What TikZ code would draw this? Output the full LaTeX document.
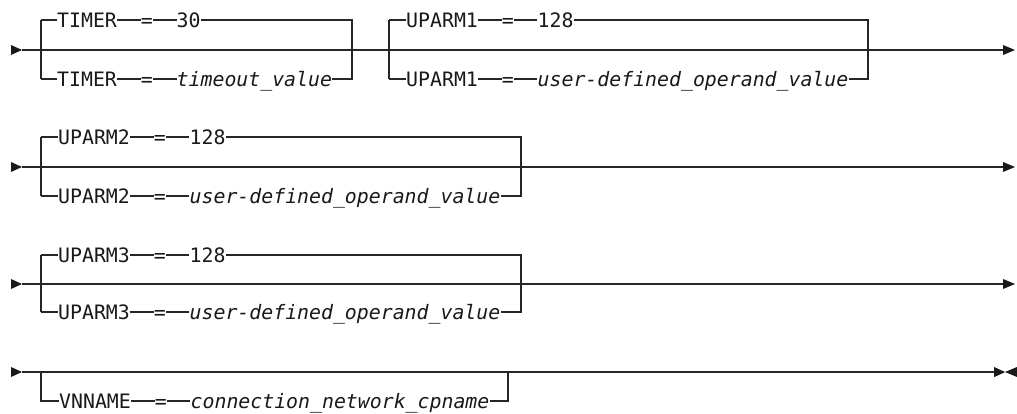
\documentclass[tikz,border=0pt]{standalone}
\usepackage{fontspec}
\setmonofont{DejaVu Sans Mono}
\begin{document}
\begin{tikzpicture}[x=1pt,y=-1pt,
  ln/.style={line width=1.1pt, draw=black!85},
  lbl/.style={inner sep=0pt, anchor=west, text height=14.5pt, text depth=0pt,
    font=\ttfamily\fontsize{19.85}{24}\selectfont, text=black!90},
  val/.style={lbl, font=\ttfamily\itshape\fontsize{19.85}{24}\selectfont},
  tri/.style={fill=black!90, draw=none}]
\useasboundingbox (0,0) rectangle (1017,414);
\def\w{11.95}

% ---------- Row 1 ----------
\coordinate (r1s) at (22,50);
\coordinate (r1e) at (1003,50);
\fill[tri] (11,45) -- (r1s) -- (11,55) -- cycle;
\fill[tri] (1003,45) -- (1015,50) -- (1003,55) -- cycle;
\draw[ln] (r1s) -- (r1e);
% TIMER group
\coordinate (aT) at (41,20); \coordinate (aB) at (41,79);
\coordinate (aRT) at (352,20); \coordinate (aRB) at (352,79);
\node[lbl] (a1k) at (57,20) {TIMER};
\node[lbl] (a1e) at ({57+7*\w},20) {=};
\node[lbl] (a1v) at ({57+10*\w},20) {30};
\node[lbl] (a2k) at (57,79) {TIMER};
\node[lbl] (a2e) at ({57+7*\w},79) {=};
\node[val] (a2v) at ({57+10*\w},79) {timeout\_value};
\draw[ln] (aT) -- (aB);
\draw[ln] (aT) -- (a1k.west) (a1k.east) -- (a1e.west) (a1e.east) -- (a1v.west);
\draw[ln] (a1v.east) -- (aRT) -- (aRB) -- (a2v.east);
\draw[ln] (aB) -- (a2k.west) (a2k.east) -- (a2e.west) (a2e.east) -- (a2v.west);
% UPARM1 group
\coordinate (bT) at (389,20); \coordinate (bB) at (389,79);
\coordinate (bRT) at (868,20); \coordinate (bRB) at (868,79);
\node[lbl] (b1k) at (406,20) {UPARM1};
\node[lbl] (b1e) at ({406+8*\w},20) {=};
\node[lbl] (b1v) at ({406+11*\w},20) {128};
\node[lbl] (b2k) at (406,79) {UPARM1};
\node[lbl] (b2e) at ({406+8*\w},79) {=};
\node[val] (b2v) at ({406+11*\w},79) {user-defined\_operand\_value};
\draw[ln] (bT) -- (bB);
\draw[ln] (bT) -- (b1k.west) (b1k.east) -- (b1e.west) (b1e.east) -- (b1v.west);
\draw[ln] (b1v.east) -- (bRT) -- (bRB) -- (b2v.east);
\draw[ln] (bB) -- (b2k.west) (b2k.east) -- (b2e.west) (b2e.east) -- (b2v.west);

% ---------- Row 2 ----------
\coordinate (r2s) at (22,167);
\coordinate (r2e) at (1003,167);
\fill[tri] (11,162) -- (r2s) -- (11,172) -- cycle;
\fill[tri] (1003,162) -- (1015,167) -- (1003,172) -- cycle;
\draw[ln] (r2s) -- (r2e);
\coordinate (cT) at (41,137); \coordinate (cB) at (41,196);
\coordinate (cRT) at (521,137); \coordinate (cRB) at (521,196);
\node[lbl] (c1k) at (58,137) {UPARM2};
\node[lbl] (c1e) at ({58+8*\w},137) {=};
\node[lbl] (c1v) at ({58+11*\w},137) {128};
\node[lbl] (c2k) at (58,196) {UPARM2};
\node[lbl] (c2e) at ({58+8*\w},196) {=};
\node[val] (c2v) at ({58+11*\w},196) {user-defined\_operand\_value};
\draw[ln] (cT) -- (cB);
\draw[ln] (cT) -- (c1k.west) (c1k.east) -- (c1e.west) (c1e.east) -- (c1v.west);
\draw[ln] (c1v.east) -- (cRT) -- (cRB) -- (c2v.east);
\draw[ln] (cB) -- (c2k.west) (c2k.east) -- (c2e.west) (c2e.east) -- (c2v.west);

% ---------- Row 3 ----------
\coordinate (r3s) at (22,284);
\coordinate (r3e) at (1003,284);
\fill[tri] (11,279) -- (r3s) -- (11,289) -- cycle;
\fill[tri] (1003,279) -- (1015,284) -- (1003,289) -- cycle;
\draw[ln] (r3s) -- (r3e);
\coordinate (dT) at (41,255); \coordinate (dB) at (41,312);
\coordinate (dRT) at (521,255); \coordinate (dRB) at (521,312);
\node[lbl] (d1k) at (58,255) {UPARM3};
\node[lbl] (d1e) at ({58+8*\w},255) {=};
\node[lbl] (d1v) at ({58+11*\w},255) {128};
\node[lbl] (d2k) at (58,312) {UPARM3};
\node[lbl] (d2e) at ({58+8*\w},312) {=};
\node[val] (d2v) at ({58+11*\w},312) {user-defined\_operand\_value};
\draw[ln] (dT) -- (dB);
\draw[ln] (dT) -- (d1k.west) (d1k.east) -- (d1e.west) (d1e.east) -- (d1v.west);
\draw[ln] (d1v.east) -- (dRT) -- (dRB) -- (d2v.east);
\draw[ln] (dB) -- (d2k.west) (d2k.east) -- (d2e.west) (d2e.east) -- (d2v.west);

% ---------- Row 4 ----------
\coordinate (r4s) at (22,372);
\coordinate (r4e) at (994,372);
\fill[tri] (11,367) -- (r4s) -- (11,377) -- cycle;
\fill[tri] (r4e) -- (1005,372) -- (994,377) -- cycle;
\fill[tri] (994,367) -- (1005,372) -- (994,377) -- cycle;
\fill[tri] (1017,367) -- (1005,372) -- (1017,377) -- cycle;
\draw[ln] (r4s) -- (r4e);
\coordinate (eT) at (41,372); \coordinate (eB) at (41,401);
\coordinate (eRT) at (508,372); \coordinate (eRB) at (508,401);
\node[lbl] (e2k) at (59,401) {VNNAME};
\node[lbl] (e2e) at ({59+8*\w},401) {=};
\node[val] (e2v) at ({59+11*\w},401) {connection\_network\_cpname};
\draw[ln] (eT) -- (eB) -- (e2k.west) (e2k.east) -- (e2e.west) (e2e.east) -- (e2v.west);
\draw[ln] (e2v.east) -- (eRB) -- (eRT);
\coordinate (th1) at (514,372); \coordinate (th2) at (538,372);
\draw[line width=2.4pt, draw=black!85] (th1) -- (th2);
\end{tikzpicture}
\end{document}
